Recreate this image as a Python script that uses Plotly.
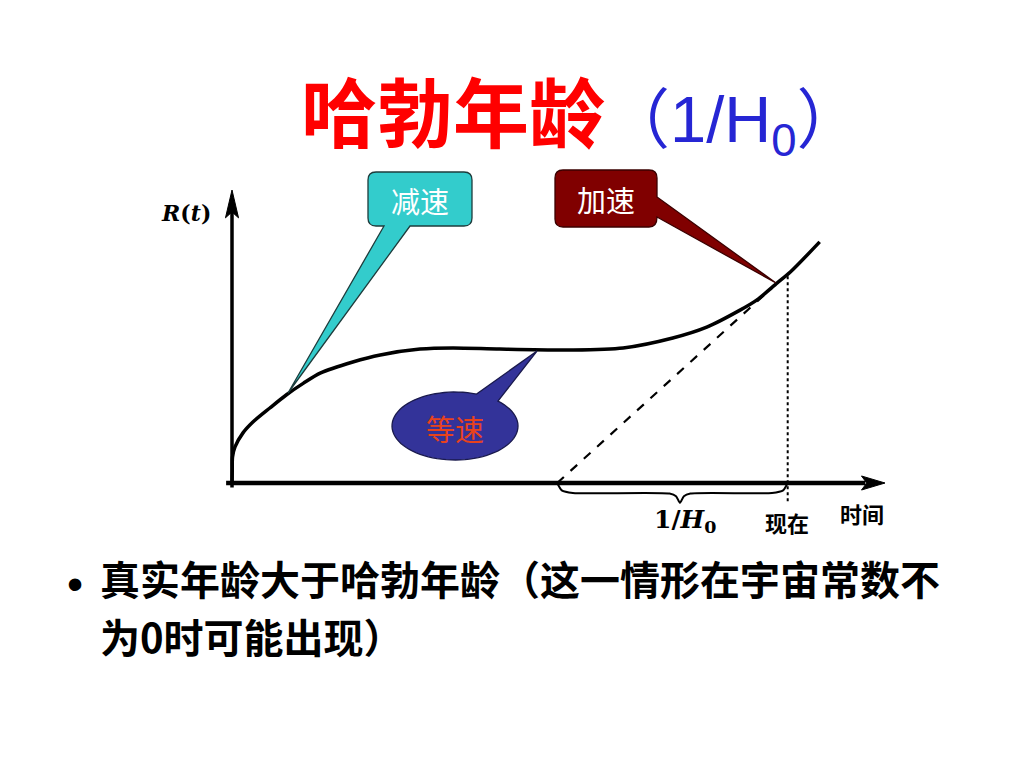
import numpy as np
import plotly.graph_objects as go

W, H = 1024, 768
OFF = 8  # page body margin of the html page

# ---------------- data (chart units: time t, scale factor R) ----------------
t_curve = [0.0, 0.004, 0.008, 0.046, 0.168, 0.32, 0.58, 0.84, 1.09, 1.35, 1.85, 2.27,
           2.88, 3.38, 4.10, 5.18, 5.99, 6.75, 7.27, 7.78, 8.04, 8.35, 8.55, 9.00]
R_curve = [0.0, 0.44, 0.89, 1.23, 1.71, 2.08, 2.56, 3.02, 3.40, 3.75, 4.13, 4.37,
           4.57, 4.61, 4.57, 4.54, 4.61, 4.95, 5.32, 5.90, 6.25, 6.83, 7.20, 8.23]

tangent_t = [4.98, 8.27]        # Hubble-time tangent line
tangent_R = [0.0, 6.66]
now_t = 8.51                    # "现在"
now_R = [-0.62, 7.13]
brace_t = [4.98, 5.05, 5.22, 6.70, 6.80, 6.86, 6.92, 7.02, 8.27, 8.44, 8.51]
brace_R = [0.0, -0.25, -0.34, -0.36, -0.45, -0.68, -0.45, -0.36, -0.34, -0.25, 0.0]

t_axis_end = 10.0
R_axis_end = 10.0
x_range = [-0.6, 10.4]
y_range = [-1.2, 10.5]

title_main = "哈勃年龄"
title_paren = "（1/H<sub>0</sub>）"
label_decel = "减速"
label_accel = "加速"
label_const = "等速"
label_R = "<b><i>R</i>(<i>t</i>)</b>"
label_time = "<b>时间</b>"
label_now = "<b>现在</b>"
label_hubble = "<b>1/<i>H</i><sub>0</sub></b>"
bullet_lines = ["真实年龄大于哈勃年龄（这一情形在宇宙常数不", "为0时可能出现）"]

CJK = "Noto Sans CJK SC"

# layout of the diagram on the page: origin pixel and pixels per unit
X0, XS = 232, 65.3
Y0, YS = 483, 29.3

# ---------------- helpers (paper coordinates from page pixel positions) ----------------
def px(x):
    return (x - OFF) / W

def py(y):
    return 1 - (y - OFF) / H

fig = go.Figure()

def add_line(xs, ys, **line):
    fig.add_trace(go.Scatter(x=xs, y=ys, mode="lines", line=line,
                             hoverinfo="skip", showlegend=False))

# axes lines
add_line([-0.09, t_axis_end - 0.3], [0, 0], color="black", width=4.5)
add_line([0, 0], [-0.15, R_axis_end - 0.6], color="black", width=3.5)
# data curves
add_line(t_curve, R_curve, color="black", width=3.5, shape="spline", smoothing=0.8)
add_line(tangent_t, tangent_R, color="black", width=2.2, dash="dash")
add_line([now_t, now_t], now_R, color="black", width=2, dash="dot")
add_line(brace_t, brace_R, color="black", width=2, shape="spline", smoothing=0.6)

shapes = []
# arrowheads at the axis ends (in axis units)
xe, ye = t_axis_end, R_axis_end
shapes.append(dict(type="path", xref="x", yref="y",
                   path=f"M {xe},0 L {xe-0.36},0.24 L {xe-0.28},0 L {xe-0.36},-0.24 Z",
                   fillcolor="black", line=dict(color="black", width=1)))
shapes.append(dict(type="path", xref="x", yref="y",
                   path=f"M 0,{ye} L 0.1,{ye-0.95} L 0,{ye-0.75} L -0.1,{ye-0.95} Z",
                   fillcolor="black", line=dict(color="black", width=1)))

annotations = []


def txt(x, y, text, size, color="black", family=CJK, xanchor="center", yanchor="middle"):
    annotations.append(dict(x=px(x), y=py(y), xref="paper", yref="paper", text=text,
                            showarrow=False, xanchor=xanchor, yanchor=yanchor, align="left",
                            font=dict(size=size, color=color, family=family)))


# title (one line, mixed sizes)
title_html = ("<b>" + title_main + "</b>"
              + '<span style="color:#2626D4;font-size:65px;font-family:Liberation Sans,'
              + CJK + '">' + title_paren + "</span>")
txt(299, 110, title_html, 76, color="#FF0000", xanchor="left")

# axis labels
txt(186, 213, label_R, 22, family="DejaVu Serif")
txt(862, 513, label_time, 22)
txt(787, 522, label_now, 22)
txt(685, 521, label_hubble, 25, family="DejaVu Serif")

# bullet text
txt(75, 584, "•", 46, family="Liberation Sans")
txt(98, 578, "<b>" + bullet_lines[0] + "</b>", 40, xanchor="left")
txt(98, 636, "<b>" + bullet_lines[1] + "</b>", 40, xanchor="left")

# ---------------- callouts ----------------


def P(x, y):
    return f"{px(x):.5f},{py(y):.5f}"


# 减速 (teal box, pointer to decelerating part)
p1 = (f"M {P(376,172)} L {P(464,172)} Q {P(472,172)} {P(472,180)} L {P(472,218)} "
      f"Q {P(472,226)} {P(464,226)} L {P(410,226)} L {P(288,393)} L {P(384,226)} "
      f"L {P(376,226)} Q {P(368,226)} {P(368,218)} L {P(368,180)} Q {P(368,172)} {P(376,172)} Z")
shapes.append(dict(type="path", path=p1, xref="paper", yref="paper",
                   fillcolor="#33CCCC", line=dict(color="#1E3C3C", width=1.3)))
txt(420, 200, label_decel, 29, color="white")

# 加速 (dark red box)
p2 = (f"M {P(563,170)} L {P(649,170)} Q {P(657,170)} {P(657,178)} L {P(657,197)} "
      f"L {P(776,283)} L {P(657,217)} Q {P(657,227)} {P(649,227)} L {P(563,227)} "
      f"Q {P(555,227)} {P(555,219)} L {P(555,178)} Q {P(555,170)} {P(563,170)} Z")
shapes.append(dict(type="path", path=p2, xref="paper", yref="paper",
                   fillcolor="#800000", line=dict(color="#3A0000", width=1.3)))
txt(606, 199, label_accel, 29, color="white")

# 等速 (blue ellipse)
cx, cy, rx, ry = 455, 426, 63, 34
angs = np.deg2rad(np.linspace(-47, 290, 80))
pts = [P(cx + rx * np.cos(a), cy + ry * np.sin(a)) for a in angs]
p3 = "M " + " L ".join(pts) + f" L {P(537,351)} Z"
shapes.append(dict(type="path", path=p3, xref="paper", yref="paper",
                   fillcolor="#333399", line=dict(color="#1A1A4D", width=1.3)))
txt(455, 428, label_const, 29, color="#E8421C")

fig.update_layout(
    width=W, height=H,
    margin=dict(l=0, r=0, t=0, b=0),
    paper_bgcolor="white", plot_bgcolor="rgba(0,0,0,0)",
    showlegend=False,
    xaxis=dict(domain=[px(X0 + x_range[0] * XS), px(X0 + x_range[1] * XS)],
               range=x_range, visible=False, fixedrange=True),
    yaxis=dict(domain=[py(Y0 - y_range[0] * YS), py(Y0 - y_range[1] * YS)],
               range=y_range, visible=False, fixedrange=True),
    annotations=annotations,
    shapes=shapes,
)

fig.write_html("out.html")
